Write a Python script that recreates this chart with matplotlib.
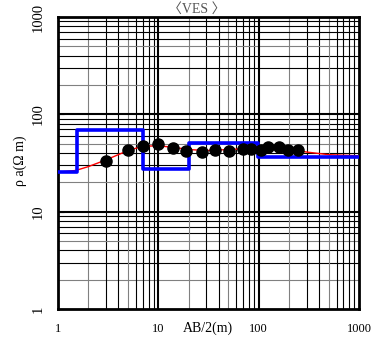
import matplotlib
matplotlib.use("Agg")
import matplotlib.pyplot as plt
import matplotlib.transforms as mtransforms
import numpy as np

# Measured apparent resistivity
ab2 = [3, 5, 7, 10, 14, 19, 27, 37, 51, 70, 84, 105, 123, 160, 198, 245]
rho = [33.4, 43, 47.6, 49.2, 45.4, 42.3, 41.3, 43, 42.3, 44, 44, 43.3, 45.8, 45.8, 43.3, 43]

# Calculated (fitted) curve
fit_x = [1, 1.5, 2, 3, 5, 7, 10, 15, 20, 30, 50, 100, 150, 200, 300, 500, 1000]
fit_y = [25.5, 26.5, 29, 34, 42.5, 47, 47.5, 45.5, 43.5, 42.5, 43.5, 45, 45.5, 44, 41, 38.5, 37.5]

# Layer model (step)
model_depth = [1, 1.54, 7.08, 20.2, 99, 1000]
model_rho = [25.4, 69, 27.4, 51, 36.7]

xticks = [1, 10, 100, 1000]
xticklabels = ["1", "10", "100", "1000"]
yticks = [1, 10, 100, 1000]
yticklabels = ["1", "10", "100", "1000"]

serif = ["Liberation Serif", "DejaVu Serif"]
plt.rcParams["font.family"] = serif

fig = plt.figure(figsize=(3.74, 3.45), dpi=100)
ax = fig.add_axes([58/374, 1-309/345, 301/374, 292/345])
ax.set_xscale("log")
ax.set_yscale("log")
ax.set_xlim(1, 1000)
ax.set_ylim(1, 1000)

# grid
for dec in [1, 10, 100]:
    for m in range(2, 10):
        v = dec * m
        c = "#808080" if m in (2, 5) else "black"
        ax.axvline(v, color=c, lw=0.8, zorder=1)
        ax.axhline(v, color=c, lw=0.8, zorder=1)
for v in [10, 100]:
    ax.axvline(v, color="black", lw=1.5, zorder=1)
    ax.axhline(v, color="black", lw=1.5, zorder=1)

ax.plot(fit_x, fit_y, color="red", lw=1.0, zorder=3)
sx = []
sy = []
for i in range(len(model_rho)):
    sx += [model_depth[i], model_depth[i+1]]
    sy += [model_rho[i], model_rho[i]]
ax.plot(sx, sy, color="#0000ff", lw=2.6, zorder=4)
ax.plot(ab2, rho, "o", color="black", ms=8, zorder=5)

for s in ax.spines.values():
    s.set_linewidth(2.0)

ax.set_xticks(xticks)
ax.set_xticklabels([])
ax.set_yticks(yticks)
ax.set_yticklabels([])
ax.minorticks_off()
ax.tick_params(axis="x", length=0)
ax.tick_params(axis="y", direction="in", length=4, width=0.8)

for v, lab in zip(xticks, xticklabels):
    ax.text(v, -0.067, lab, transform=ax.get_xaxis_transform(), ha="center", va="center", fontsize=9)
ytrans = mtransforms.blended_transform_factory(fig.transFigure, ax.transData)
for v, lab in zip(yticks, yticklabels):
    ax.text(38/374, v, lab, transform=ytrans, rotation=90,
            ha="center", va="center", fontsize=10.5, clip_on=False)

fig.text(208/374, 1-328/345, "AB/2(m)", ha="center", va="center", fontsize=10)
fig.text(20/374, 1-161/345, "ρ a(Ω m)", rotation=90, ha="center", va="center", fontsize=10)
fig.text(197/374, 1-9/345, "〈VES 〉", ha="center", va="center", fontsize=10, color="#555555",
         family=["Liberation Serif", "Noto Sans CJK JP"])

fig.savefig("out.png", dpi=100)
